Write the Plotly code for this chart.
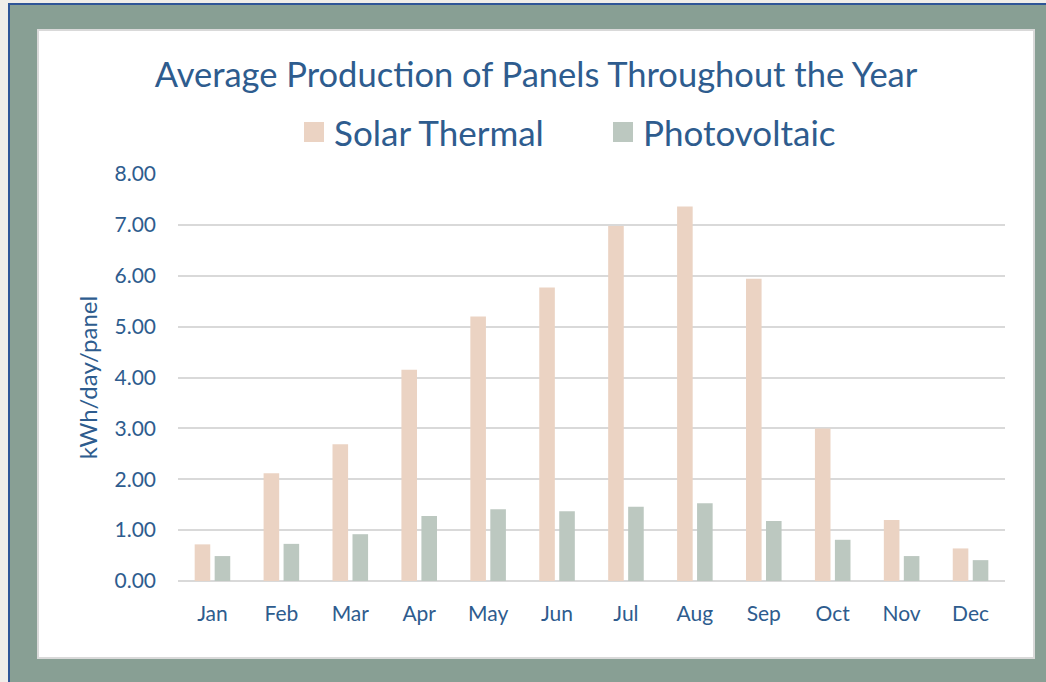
import plotly.graph_objects as go

# valores (kWh/dia/painel)
meses = ['Jan', 'Feb', 'Mar', 'Apr', 'May', 'Jun', 'Jul', 'Aug', 'Sep', 'Oct', 'Nov', 'Dec']
solar_termico = [0.72, 2.12, 2.69, 4.15, 5.20, 5.77, 6.98, 7.36, 5.94, 3.00, 1.20, 0.64]
fotovoltaico = [0.49, 0.73, 0.92, 1.28, 1.41, 1.37, 1.46, 1.53, 1.18, 0.81, 0.49, 0.41]
series = ['Solar Thermal', 'Photovoltaic']

AZUL = '#2E5C8E'
COR_ST = '#EBD3C3'
COR_PV = '#BCC8C0'
FONTE = 'Lato'
W, H = 1046, 682
ML, MR, MT, MB = 178, 41, 174, 101


def px_x(px):
    # pixel da página -> coordenada paper em x
    return (px - ML) / (W - ML - MR)


def px_y(py):
    return (H - MB - py) / (H - MT - MB)


fig = go.Figure()
fig.add_trace(go.Bar(x=meses, y=solar_termico, name=series[0],
                     marker_color=COR_ST, marker_line_width=0))
fig.add_trace(go.Bar(x=meses, y=fotovoltaico, name=series[1],
                     marker_color=COR_PV, marker_line_width=0))

# moldura verde com borda azul e painel branco
fig.add_shape(type='rect', xref='paper', yref='paper', layer='below',
              x0=px_x(9), x1=px_x(1060), y0=px_y(700), y1=px_y(4),
              fillcolor='#889F94', line=dict(color='#2F5597', width=2))
fig.add_shape(type='rect', xref='paper', yref='paper', layer='below',
              x0=px_x(38), x1=px_x(1034), y0=px_y(658), y1=px_y(30),
              fillcolor='white', line=dict(color='#D9D9D9', width=2))

# legenda desenhada à mão (quadrados maiores que os do plotly)
for nome, cor, x_quad in [(series[0], COR_ST, 304), (series[1], COR_PV, 613)]:
    fig.add_shape(type='rect', xref='paper', yref='paper',
                  x0=px_x(x_quad), x1=px_x(x_quad + 20),
                  y0=px_y(142), y1=px_y(122),
                  fillcolor=cor, line_width=0)
    fig.add_annotation(text=nome, xref='paper', yref='paper',
                       x=px_x(x_quad + 28), y=px_y(132),
                       xanchor='left', yanchor='middle', showarrow=False,
                       font=dict(size=35, color=AZUL, family=FONTE))

fig.update_layout(
    width=W, height=H,
    margin=dict(l=ML, r=MR, t=MT, b=MB),
    paper_bgcolor='#F0EDE9',
    plot_bgcolor='rgba(0,0,0,0)',
    font=dict(family=FONTE, color=AZUL),
    title=dict(text='Average Production of Panels Throughout the Year',
               x=536 / W, xanchor='center', y=1 - 75 / H, yanchor='middle',
               xref='container', yref='container',
               font=dict(size=34.5, color=AZUL, family=FONTE)),
    barmode='group',
    bargap=0.42,
    bargroupgap=0.22,
    showlegend=False,
    hovermode=False,
)

fig.update_xaxes(showgrid=False, showline=False, ticks='',
                 tickfont=dict(size=21, color=AZUL, family=FONTE),
                 ticklabelstandoff=18)
fig.update_yaxes(range=[0, 8], dtick=1, tickformat='.2f',
                 showgrid=True, gridcolor='#D9D9D9', gridwidth=2,
                 zeroline=True, zerolinecolor='#D9D9D9', zerolinewidth=2,
                 showline=False, ticks='',
                 tickfont=dict(size=21, color=AZUL, family=FONTE),
                 ticklabelstandoff=21,
                 title=dict(text='kWh/day/panel', standoff=10,
                            font=dict(size=24, color=AZUL, family=FONTE)))

# tira a margem padrão do <body> para a figura ocupar a janela toda
fig.write_html('out.html', config={'displayModeBar': False},
               post_script="document.body.style.margin='0';")
